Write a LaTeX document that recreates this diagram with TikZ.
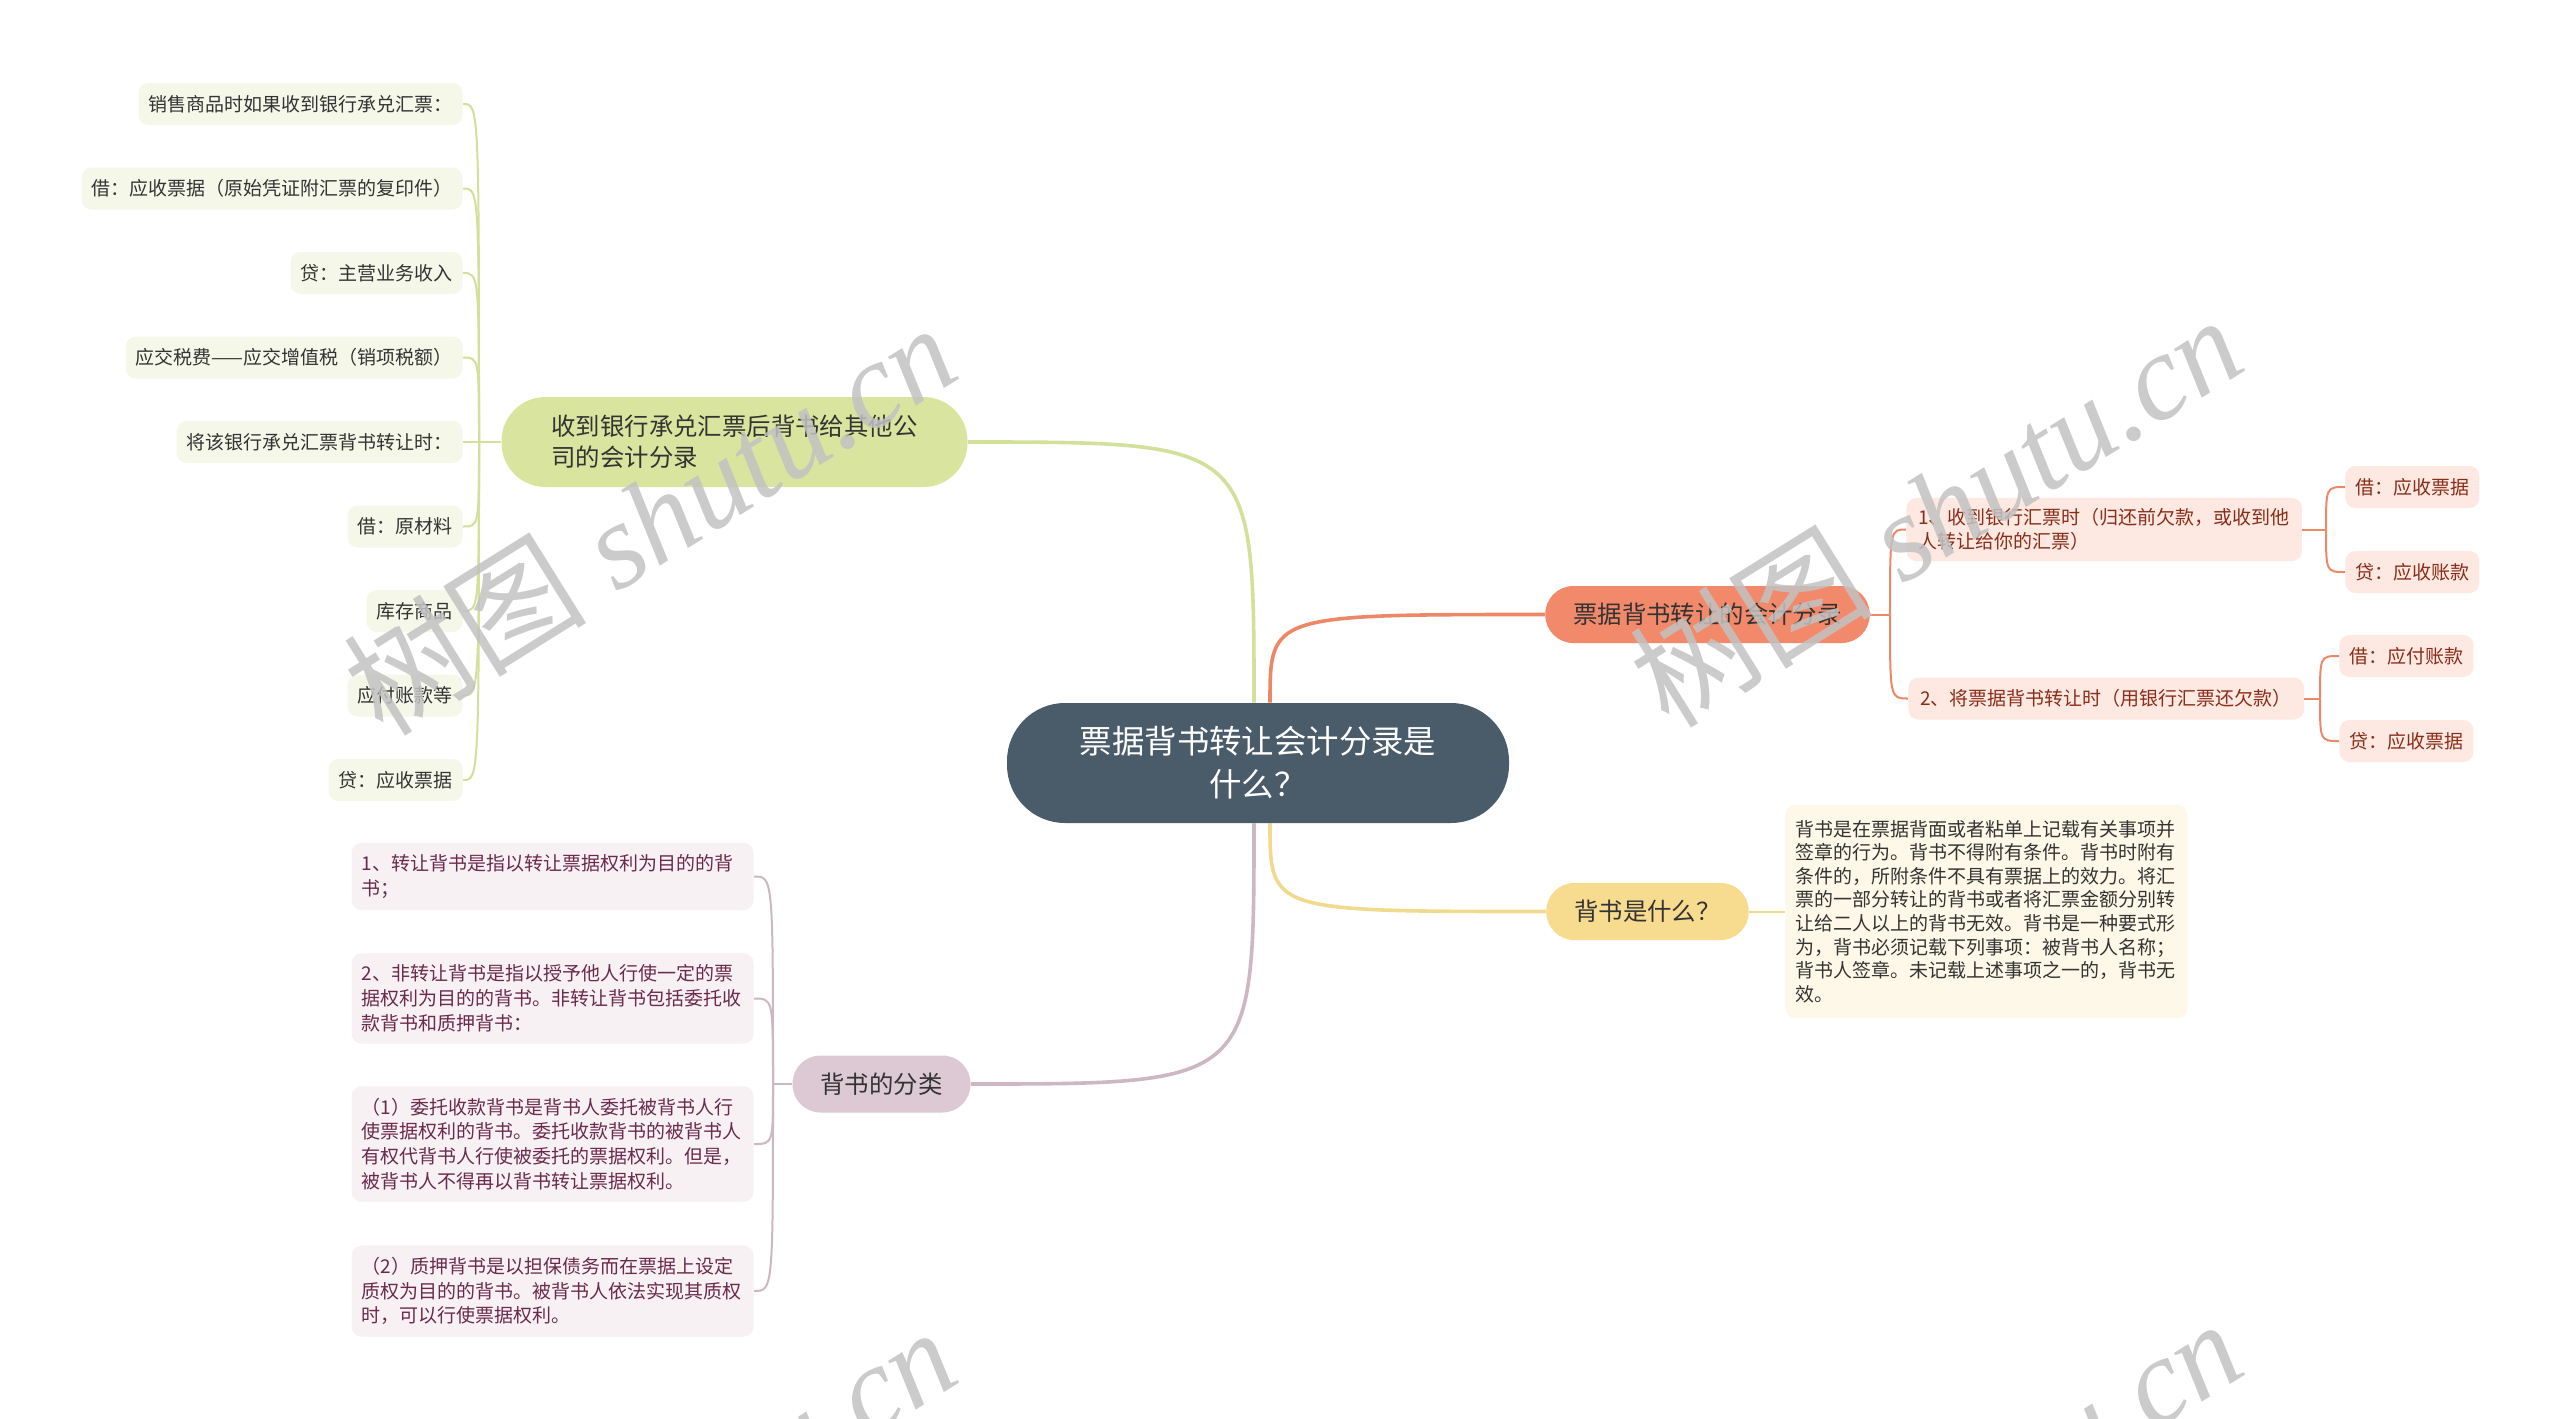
\documentclass[tikz,border=0pt]{standalone}
\usepackage{fontspec}
\usepackage{xcolor}
\usepackage{tikz}
\usetikzlibrary{positioning, backgrounds}
\newfontfamily\cjk{Noto Sans CJK SC}
\newfontfamily\wmfont{Liberation Serif}
\definecolor{RootSlate}{HTML}{4A5B6A}
\definecolor{GreenMain}{HTML}{D9E59F}
\definecolor{GreenLeaf}{HTML}{F5F8E9}
\definecolor{GreenLine}{HTML}{D2E09A}
\definecolor{OrangeMain}{HTML}{F3896B}
\definecolor{OrangeLeaf}{HTML}{FDE9E2}
\definecolor{OrangeLine}{HTML}{EC8868}
\definecolor{OrangeText}{HTML}{8A2D17}
\definecolor{YellowMain}{HTML}{F7DC8F}
\definecolor{YellowLeaf}{HTML}{FDF8E8}
\definecolor{YellowLine}{HTML}{F1DA8E}
\definecolor{MauveMain}{HTML}{DCC9D3}
\definecolor{MauveLeaf}{HTML}{F7F1F4}
\definecolor{MauveLine}{HTML}{CDB7C3}
\definecolor{MauveText}{HTML}{6B2A4D}
\definecolor{DarkText}{HTML}{333333}
\tikzset{
  % Nodi della mappa
  root/.style={fill=RootSlate,text=white,rounded corners=29pt,minimum width=251pt,minimum height=60pt,align=center,font=\cjk\fontsize{16.2}{21.5}\selectfont},
  topic/.style={rounded corners=14pt,minimum height=28.5pt,inner xsep=14pt,inner ysep=0pt,text=DarkText,font=\cjk\fontsize{12.2}{15.5}\selectfont},
  leaf/.style={rounded corners=5pt,minimum height=21pt,inner xsep=5pt,inner ysep=5.25pt,align=left,font=\cjk\fontsize{9.5}{12}\selectfont},
  leaf green/.style={leaf,fill=GreenLeaf,text=DarkText,anchor=east},
  leaf orange/.style={leaf,fill=OrangeLeaf,text=OrangeText,anchor=west},
  leaf mauve/.style={leaf,fill=MauveLeaf,text=MauveText,anchor=east,text width=191pt,inner ysep=5.8pt,font=\cjk\fontsize{9.5}{12.4}\selectfont},
  % Connessioni
  link/.style={line width=1pt},
  link main/.style={line width=1.8pt},
  % Filigrana
  watermark/.style={rotate=32,text=black!24,opacity=0.85,font=\wmfont\fontsize{61}{61}\selectfont\itshape}
}

\begin{document}
\begin{tikzpicture}[x=0.5pt,y=-0.5pt]
  \useasboundingbox (0,0) rectangle (2560,1419);
  \begin{scope}[on background layer]
    \fill[white] (0,0) rectangle (2560,1419);
  \end{scope}

  % centro
  \node[root] (root) at (1258,763) {票据背书转让会计分录是\\什么？};
  \coordinate (rtopg) at ([xshift=-2pt]root.north);
  \coordinate (rtopo) at ([xshift=6pt]root.north);
  \coordinate (rbotm) at ([xshift=-2pt]root.south);
  \coordinate (rboty) at ([xshift=6pt]root.south);

  % ramo verde
  \node[topic,fill=GreenMain,minimum height=45pt,rounded corners=22pt,inner xsep=25pt,align=left] (recv) at (734.5,442) {收到银行承兑汇票后背书给其他公\\司的会计分录};
  \coordinate (gjoint) at (479,442);
  \foreach \txt [count=\i] in {销售商品时如果收到银行承兑汇票：,%
    借：应收票据（原始凭证附汇票的复印件）,%
    贷：主营业务收入,%
    应交税费——应交增值税（销项税额）,%
    将该银行承兑汇票背书转让时：,%
    借：原材料,%
    库存商品,%
    应付账款等,%
    贷：应收票据}
    \node[leaf green] (gl\i) at (463,{104+84.5*(\i-1)}) {\txt};

  % ramo arancione
  \node[topic,fill=OrangeMain] (entry) at (1707.5,614.5) {票据背书转让的会计分录};
  \coordinate (ojoint) at (1890,614.5);
  \node[leaf orange,inner xsep=6pt] (recvbill) at (1906,529.5) {1、收到银行汇票时（归还前欠款，或收到他\\人转让给你的汇票）};
  \node[leaf orange,inner xsep=6pt] (paybill) at (1908,698.5) {2、将票据背书转让时（用银行汇票还欠款）};
  \coordinate (rjoint) at (2326,529.5);
  \coordinate (pjoint) at (2320,698.5);
  \node[leaf orange] (dr1) at (2345,487) {借：应收票据};
  \node[leaf orange] (cr1) at (2345,572) {贷：应收账款};
  \node[leaf orange] (dr2) at (2339,656) {借：应付账款};
  \node[leaf orange] (cr2) at (2339,741) {贷：应收票据};

  % ramo giallo
  \node[topic,fill=YellowMain] (what) at (1647.5,911.5) {背书是什么？};
  \node[leaf,fill=YellowLeaf,text=DarkText,anchor=west,text width=191pt,inner ysep=7.7pt,font=\cjk\fontsize{9.5}{11.8}\selectfont] (defn) at (1785,911.5) {背书是在票据背面或者粘单上记载有关事项并\\签章的行为。背书不得附有条件。背书时附有\\条件的，所附条件不具有票据上的效力。将汇\\票的一部分转让的背书或者将汇票金额分别转\\让给二人以上的背书无效。背书是一种要式形\\为，背书必须记载下列事项：被背书人名称；\\背书人签章。未记载上述事项之一的，背书无\\效。};

  % ramo malva
  \node[topic,fill=MauveMain] (kinds) at (881.5,1084) {背书的分类};
  \coordinate (mjoint) at (773,1084);
  \node[leaf mauve] (ml1) at (754,876.5) {1、转让背书是指以转让票据权利为目的的背\\书；};
  \node[leaf mauve] (ml2) at (754,998.5) {2、非转让背书是指以授予他人行使一定的票\\据权利为目的的背书。非转让背书包括委托收\\款背书和质押背书：};
  \node[leaf mauve] (ml3) at (754,1144) {（1）委托收款背书是背书人委托被背书人行\\使票据权利的背书。委托收款背书的被背书人\\有权代背书人行使被委托的票据权利。但是，\\被背书人不得再以背书转让票据权利。};
  \node[leaf mauve] (ml4) at (754,1291) {（2）质押背书是以担保债务而在票据上设定\\质权为目的的背书。被背书人依法实现其质权\\时，可以行使票据权利。};

  \begin{scope}[on background layer]
    \draw[link main,GreenLine] (recv.east) .. controls (recv.east -| rtopg) .. (rtopg);
    \draw[link main,OrangeLine] (rtopo) .. controls (rtopo |- entry.west) .. (entry.west);
    \draw[link main,YellowLine] (rboty) .. controls (rboty |- what.west) .. (what.west);
    \draw[link main,MauveLine] (rbotm) .. controls (rbotm |- kinds.east) .. (kinds.east);

    \draw[link,GreenLine] (recv.west) -- (gjoint);
    \foreach \i in {1,...,9}
      \draw[link,GreenLine] (gjoint) .. controls (gjoint |- gl\i.east) .. (gl\i.east);

    \draw[link,OrangeLine] (entry.east) -- (ojoint);
    \draw[link,OrangeLine] (ojoint) .. controls (ojoint |- recvbill.west) .. (recvbill.west);
    \draw[link,OrangeLine] (ojoint) .. controls (ojoint |- paybill.west) .. (paybill.west);
    \draw[link,OrangeLine] (recvbill.east) -- (rjoint);
    \draw[link,OrangeLine] (rjoint) .. controls (rjoint |- dr1.west) .. (dr1.west);
    \draw[link,OrangeLine] (rjoint) .. controls (rjoint |- cr1.west) .. (cr1.west);
    \draw[link,OrangeLine] (paybill.east) -- (pjoint);
    \draw[link,OrangeLine] (pjoint) .. controls (pjoint |- dr2.west) .. (dr2.west);
    \draw[link,OrangeLine] (pjoint) .. controls (pjoint |- cr2.west) .. (cr2.west);

    \draw[link,YellowLine] (what.east) -- (defn.west);

    \draw[link,MauveLine] (kinds.west) -- (mjoint);
    \foreach \i in {1,...,4}
      \draw[link,MauveLine] (mjoint) .. controls (mjoint |- ml\i.east) .. (ml\i.east);
  \end{scope}

  % filigrana
  \begin{scope}
    \clip (0,0) rectangle (2560,1419);
    \foreach \wx/\wy in {649/518,1935/510,649/1522,1935/1514}
      \node[watermark] at (\wx,\wy) {{\cjk\upshape 树图} shutu.cn};
  \end{scope}
\end{tikzpicture}
\end{document}
